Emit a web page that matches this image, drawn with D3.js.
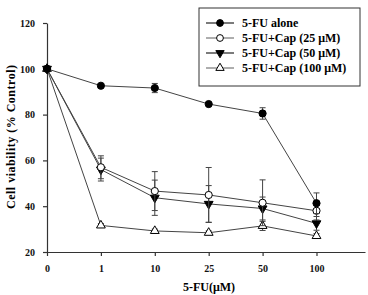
<!DOCTYPE html>
<html>
<head>
<meta charset="utf-8">
<script src="https://cdn.jsdelivr.net/npm/d3@7"></script>
<style>
body { margin: 0; background: #fff; }
text { font-family: "Liberation Serif", "Times New Roman", serif; font-weight: bold; }
</style>
</head>
<body>
<div class="canvas"></div>
<script>
// data
const doses = ['0', '1', '10', '25', '50', '100'];
const yTicks = [20, 40, 60, 80, 100, 120];

const fuAlone = [100, 92.6, 91.6, 84.6, 80.5, 41.3];
const fuAloneErr = [0, 0.6, 2, 0.6, 2.5, 4.5];
const cap25 = [100, 57, 46.6, 44.9, 41.5, 38];
const cap25Err = [0, 5, 8.5, 12, 10, 4];
const cap50 = [100, 56, 43.7, 41, 39, 32.5];
const cap50Err = [0, 5, 7.7, 8, 5, 3];
const cap100 = [100, 31.6, 29.2, 28.4, 31.4, 27];
const cap100Err = [0, 0.8, 0.8, 0.8, 2, 1];

const series = [
  { name: '5-FU alone', vals: fuAlone, err: fuAloneErr, shape: 'circle', fill: '#000' },
  { name: '5-FU+Cap (25 \u03BCM)', vals: cap25, err: cap25Err, shape: 'circle', fill: '#fff' },
  { name: '5-FU+Cap (50 \u03BCM)', vals: cap50, err: cap50Err, shape: 'down', fill: '#000' },
  { name: '5-FU+Cap (100 \u03BCM)', vals: cap100, err: cap100Err, shape: 'up', fill: '#fff' }
];

const dims = { width: 368, height: 295 };
const svg = d3.select('.canvas').append('svg')
  .attr('width', dims.width)
  .attr('height', dims.height);

// x is an index scale: one step per dose, with a spare step on the right
const x = d3.scaleLinear().domain([0, 5.9]).range([47, 365]);
const y = d3.scaleLinear().domain([20, 120]).range([252, 23]);

// axes
const yAxis = d3.axisLeft(y).tickValues(yTicks).tickSize(4).tickSizeOuter(0);
const yg = svg.append('g').attr('transform', 'translate(47,0)').call(yAxis);
yg.selectAll('text').attr('font-size', 10).attr('x', -12);

const xAxis = d3.axisBottom(x).tickValues(d3.range(doses.length))
  .tickFormat(i => doses[i]).tickSize(4).tickSizeOuter(0);
const xg = svg.append('g').attr('transform', 'translate(0,252)').call(xAxis);
xg.selectAll('text').attr('font-size', 10).attr('y', 13);

svg.selectAll('.domain, .tick line').attr('stroke', '#333').attr('stroke-width', 1.2);
svg.selectAll('.tick text').attr('fill', '#111').style('font-family', '"Liberation Serif", serif').style('font-weight', 'bold');

// axis titles
svg.append('text')
  .attr('transform', 'translate(15,137) rotate(-90)')
  .attr('text-anchor', 'middle')
  .attr('font-size', 12)
  .attr('textLength', 144)
  .text('Cell viability (% Control)');

svg.append('text')
  .attr('x', 209).attr('y', 291)
  .attr('text-anchor', 'middle')
  .attr('font-size', 12)
  .text('5-FU(\u03BCM)');

const line = d3.line().x((d, i) => x(i)).y(d => y(d));

const marker = (g, s, r) => {
  if (s.shape === 'circle') {
    g.append('circle').attr('r', r);
  } else {
    const sym = d3.symbol().type(d3.symbolTriangle).size(r * r * 2.6);
    g.append('path').attr('d', sym)
      .attr('transform', s.shape === 'down' ? 'rotate(180)' : null);
  }
  g.selectAll('circle, path').attr('fill', s.fill).attr('stroke', '#000').attr('stroke-width', 1);
};

// draw lines, error bars and markers (back to front)
series.slice().reverse().forEach(s => {
  const g = svg.append('g');
  g.append('path').datum(s.vals)
    .attr('d', line).attr('fill', 'none')
    .attr('stroke', '#444').attr('stroke-width', 1);

  s.vals.forEach((v, i) => {
    const e = s.err[i];
    if (e > 0) {
      const cx = x(i);
      g.append('line').attr('x1', cx).attr('x2', cx)
        .attr('y1', y(v - e)).attr('y2', y(v + e))
        .attr('stroke', '#444');
      [v - e, v + e].forEach(w => {
        g.append('line').attr('x1', cx - 3).attr('x2', cx + 3)
          .attr('y1', y(w)).attr('y2', y(w)).attr('stroke', '#444');
      });
    }
  });

  s.vals.forEach((v, i) => {
    const m = g.append('g').attr('transform', `translate(${x(i)},${y(v)})`);
    marker(m, s, 3.6);
  });
});

// legend
const legend = svg.append('g').attr('transform', 'translate(199,8)');
legend.append('rect').attr('width', 161).attr('height', 78)
  .attr('fill', '#fff').attr('stroke', '#333').attr('stroke-width', 1);

series.forEach((s, i) => {
  const row = legend.append('g').attr('transform', `translate(0,${15 + i * 15})`);
  row.append('line').attr('x1', 7).attr('x2', 35)
    .attr('stroke', '#333').attr('stroke-width', s.fill === '#000' ? 1.3 : 0.8);
  const m = row.append('g').attr('transform', 'translate(21,0)');
  marker(m, s, 3.4);
  row.append('text').attr('x', 43).attr('y', 4)
    .attr('font-size', 12).text(s.name);
});
</script>
</body>
</html>
